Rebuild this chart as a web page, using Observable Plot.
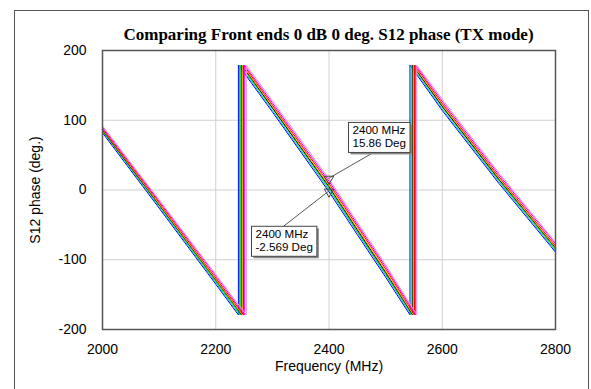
<!DOCTYPE html>
<html><head><meta charset="utf-8">
<script src="https://cdn.jsdelivr.net/npm/d3@7"></script>
<script src="https://cdn.jsdelivr.net/npm/@observablehq/plot@0.6"></script>
<style>
body{margin:0;background:#fff;}
#wrap{position:relative;width:591px;height:389px;overflow:hidden;}
#chart{position:absolute;left:0;top:0;}
#frame{position:absolute;left:14px;top:10px;width:575px;height:420px;border:1px solid #555;box-sizing:border-box;pointer-events:none;}
#title{position:absolute;left:102px;width:453px;top:25px;text-align:center;font:bold 17px "Liberation Serif","Times New Roman",serif;white-space:nowrap;color:#000;}
</style></head><body>
<div id="wrap"><div id="chart"></div><div id="frame"></div><div id="title">Comparing Front ends 0 dB 0 deg. S12 phase (TX mode)</div></div>
<script>
// ---- data ----
const seriesNames = ["Front end 1","Front end 2","Front end 3","Front end 4","Front end 5","Front end 6","Front end 7","Front end 8"];
const seriesColors = ["#0000ff","#00c0c0","#00e000","#000000","#ff9900","#ff0000","#ff00ff","#ff90d8"];
// frequencies (MHz) of the read samples, split by the ±180° wraps
const freqSeg1 = [2000, 2100, 2200];
const freqSeg2 = [2300, 2400, 2450, 2500];
const freqSeg3 = [2600, 2700, 2800];
// phase (deg) at those frequencies, one row per front end
const phaseSeg1 = [
  [82, -26, -135],[84, -24, -133],[85, -22, -131],[86, -21, -129],
  [87, -20, -128],[88, -18, -126],[90, -16, -123],[92, -14, -121]];
const phaseSeg2 = [
  [112, -2.6, -64, -125],[114, 0.2, -61, -122],[117, 2.9, -59, -120],[118, 4.8, -57, -118],
  [120, 6.6, -55, -116],[122, 9.4, -52, -113],[125, 12.6, -49, -110],[128, 15.9, -46, -107]];
const phaseSeg3 = [
  [114, 9.5, -89],[116, 12, -87],[119, 14, -85],[120, 15.5, -83],
  [122, 17, -82],[124, 19, -80],[127, 22, -77],[130, 24.5, -75]];
// frequencies where each trace wraps from -180° to +180°
const wrap1 = [2240, 2242, 2244, 2246, 2247, 2249, 2251, 2254];
const wrap2 = [2543, 2545, 2547, 2548, 2549, 2551, 2553, 2555];
const wrapLow = -179, wrapHigh = 179;
// markers
const markerFreq = [2400, 2400];
const markerPhase = [15.86, -2.569];
const markerLabels = [["2400 MHz","15.86 Deg"],["2400 MHz","-2.569 Deg"]];
// axes
const xTicks = [2000, 2200, 2400, 2600, 2800];
const yTicks = [-200, -100, 0, 100, 200];

// ---- build table ----
const rows = [];
seriesNames.forEach((s, i) => {
  freqSeg1.forEach((f, j) => rows.push({series: s, f, phase: phaseSeg1[i][j]}));
  rows.push({series: s, f: wrap1[i], phase: wrapLow});
  rows.push({series: s, f: wrap1[i], phase: wrapHigh});
  freqSeg2.forEach((f, j) => rows.push({series: s, f, phase: phaseSeg2[i][j]}));
  rows.push({series: s, f: wrap2[i], phase: wrapLow});
  rows.push({series: s, f: wrap2[i], phase: wrapHigh});
  freqSeg3.forEach((f, j) => rows.push({series: s, f, phase: phaseSeg3[i][j]}));
});
const markers = markerFreq.map((f, i) => ({f, phase: markerPhase[i], label: markerLabels[i]}));

const fmt = d => String(d);
const chart = Plot.plot({
  width: 591, height: 389,
  marginLeft: 102, marginRight: 36, marginTop: 50, marginBottom: 60,
  style: {fontFamily: '"Liberation Sans", Arial, sans-serif', fontSize: "14px", background: "transparent", color: "#000", overflow: "visible"},
  x: {domain: [2000, 2800]},
  y: {domain: [-200, 200]},
  color: {domain: seriesNames, range: seriesColors},
  marks: [
    Plot.gridX(xTicks.slice(1, -1), {stroke: "#d0d0d0", strokeOpacity: 1}),
    Plot.gridY(yTicks.slice(1, -1), {stroke: "#d0d0d0", strokeOpacity: 1}),
    Plot.axisX(xTicks, {tickSize: 0, tickPadding: 15, tickFormat: fmt, label: "Frequency (MHz)", labelAnchor: "center", labelArrow: "none", labelOffset: 41}),
    Plot.axisY(yTicks, {tickSize: 0, tickPadding: 16, tickFormat: fmt, label: "S12 phase (deg.)", labelAnchor: "center", labelArrow: "none", labelOffset: 72}),
    Plot.line(rows, {x: "f", y: "phase", z: "series", stroke: "series", strokeWidth: 1}),
    Plot.frame({stroke: "#555", strokeWidth: 1.5}),
    Plot.dot(markers, {x: "f", y: "phase", symbol: "triangle", rotate: 180, r: 3.5, stroke: "#444", fill: "none", strokeWidth: 1})
  ]
});
document.getElementById("chart").appendChild(chart);

// ---- marker annotation boxes, placed via the plot's scales ----
const sx = chart.scale("x"), sy = chart.scale("y");
const layout = [
  {dx: 20, dy: -56, anchorX: 25, anchorTop: false},
  {dx: -77, dy: 35, anchorX: 32, anchorTop: true}
];
const svg = d3.select(chart);
markers.forEach((m, i) => {
  const g = svg.append("g").attr("font-family", '"Liberation Sans", Arial, sans-serif').attr("font-size", "11.6px").attr("text-anchor", "start");
  const px = sx.apply(m.f), py = sy.apply(m.phase);
  const L = layout[i];
  const bx = px + L.dx, by = py + L.dy;
  const t = g.append("text").attr("fill", "#000");
  m.label.forEach((line, k) => t.append("tspan").attr("x", bx + 4).attr("y", by + 12 + k * 13).text(line));
  const w = t.node().getBBox().width + 8, h = 30;
  const ax = bx + L.anchorX, ay = L.anchorTop ? by : by + h;
  g.insert("rect", "text").attr("x", bx + 2).attr("y", by + 2).attr("width", w).attr("height", h).attr("fill", "#8a8a8a");
  g.insert("rect", "text").attr("x", bx).attr("y", by).attr("width", w).attr("height", h).attr("fill", "#fff").attr("stroke", "#444").attr("stroke-width", 1);
  svg.insert("line", "g:last-child").attr("x1", px).attr("y1", py).attr("x2", ax).attr("y2", ay).attr("stroke", "#444").attr("stroke-width", 0.9);
});
</script>
</body></html>
